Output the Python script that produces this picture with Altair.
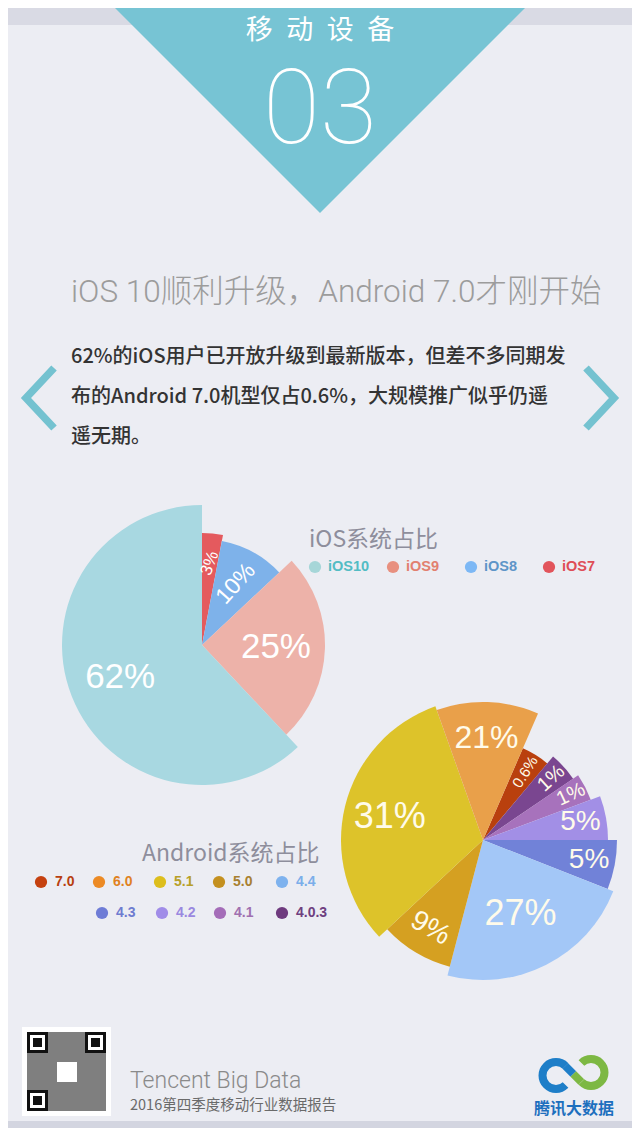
import math
import altair as alt
import pandas as pd

# ---------------- data ----------------
ios_versions = ["iOS7", "iOS8", "iOS9", "iOS10"]          # clockwise from 12 o'clock
ios_share = [3, 10, 25, 62]                               # % printed on slices
ios_legend = ["iOS10", "iOS9", "iOS8", "iOS7"]

android_versions = ["7.0", "4.0.3", "4.1", "4.2", "4.3", "4.4", "5.0", "5.1", "6.0"]  # clockwise
android_share = [0.6, 1, 1, 5, 5, 27, 9, 31, 21]         # % printed on slices
# the infographic does not draw its Android slices to scale: angular sweep as drawn (degrees)
android_sweep = [16.5, 15.8, 13.7, 20.5, 21.5, 83.2, 32.3, 113.4, 43.1]
android_legend = ["7.0", "6.0", "5.1", "5.0", "4.4", "4.3", "4.2", "4.1", "4.0.3"]

section_title = "移\u2002动\u2002设\u2002备"
section_no = "03"
headline = "iOS 10顺利升级，Android 7.0才刚开始"
body_lines = [
    "62%的iOS用户已开放升级到最新版本，但差不多同期发",
    "布的Android 7.0机型仅占0.6%，大规模推广似乎仍遥",
    "遥无期。",
]
ios_title = "iOS系统占比"
android_title = "Android系统占比"
footer_en = "Tencent Big Data"
footer_cn = "2016第四季度移动行业数据报告"
brand = "腾讯大数据"

# ---------------- styles / layout ----------------
W, H = 624, 1120
OFF = 8


def X(v):
    return v - OFF


def Y(v):
    return v - OFF


CJK = "Noto Sans CJK SC"
LAT = "Liberation Sans"
BG = "#ECEDF3"
TEAL = "#77C4D4"

ios_fill = {"iOS10": "#A8D8E1", "iOS9": "#EDB2A9", "iOS8": "#7EB2EA", "iOS7": "#E45A5E"}
ios_dot = {"iOS10": "#A6D6D8", "iOS9": "#E8907F", "iOS8": "#7DB8F5", "iOS7": "#E2545B"}
ios_txt = {"iOS10": "#52BCC4", "iOS9": "#E2806F", "iOS8": "#5E95C8", "iOS7": "#DF4E57"}
ios_r = {"iOS7": 112, "iOS8": 106, "iOS9": 123, "iOS10": 140}
ios_lr = {"iOS7": 82, "iOS8": 70, "iOS9": 74, "iOS10": 88}
ios_ls = {"iOS7": 17, "iOS8": 23, "iOS9": 35, "iOS10": 35}
ios_la = {"iOS7": 290, "iOS8": 312, "iOS9": 0, "iOS10": 0}

and_fill = {"7.0": "#B9400E", "4.0.3": "#7A4690", "4.1": "#A772BC", "4.2": "#A28FE6",
            "4.3": "#7182D8", "4.4": "#A3C7F7", "5.0": "#D5A021", "5.1": "#DDC32A", "6.0": "#E9A04A"}
and_dot = {"7.0": "#C5410F", "6.0": "#EC8A24", "5.1": "#DDBE1C", "5.0": "#C4901F", "4.4": "#7EB2EE",
           "4.3": "#6E7CD6", "4.2": "#A08CE8", "4.1": "#A46CB8", "4.0.3": "#6E3A7E"}
and_txt = {"7.0": "#B8400F", "6.0": "#E0821F", "5.1": "#B8A028", "5.0": "#A88030", "4.4": "#7BAEEA",
           "4.3": "#6E7CD0", "4.2": "#9A88E0", "4.1": "#A070B0", "4.0.3": "#6E4080"}
and_r = {"7.0": 100, "4.0.3": 109, "4.1": 115, "4.2": 125, "4.3": 134, "4.4": 140,
         "5.0": 131, "5.1": 142, "6.0": 138}
and_lr = {"7.0": 80, "4.0.3": 92, "4.1": 99, "4.2": 99, "4.3": 108, "4.4": 83,
          "5.0": 103, "5.1": 96, "6.0": 102}
and_ls = {"7.0": 15, "4.0.3": 20, "4.1": 20, "4.2": 28, "4.3": 28, "4.4": 36,
          "5.0": 28, "5.1": 36, "6.0": 32}
and_la = {"7.0": 302, "4.0.3": 318, "4.1": 335, "4.2": 0, "4.3": 0, "4.4": 0,
          "5.0": 30, "5.1": 0, "6.0": 0}

IOS_C = (202, 645)
AND_C = (483, 840)
AND_START_DEG = 23.5

one = pd.DataFrame({"k": [0]})


def rect(x1, y1, x2, y2, color, opacity=1.0):
    return alt.Chart(one).mark_rect(color=color, opacity=opacity).encode(
        x=alt.value(X(x1)), x2=alt.value(X(x2)), y=alt.value(Y(y1)), y2=alt.value(Y(y2)))


def text(s, x, y, size, color, font=CJK, weight="normal", align="left", baseline="middle"):
    return alt.Chart(one).mark_text(fontSize=size, color=color, font=font, fontWeight=weight,
                                    align=align, baseline=baseline).encode(
        x=alt.value(X(x)), y=alt.value(Y(y)), text=alt.value(s))


def symbol(path, x, y, side, color, filled=True, sw=0):
    kw = dict(shape=path, size=side * side, opacity=1, color=color, filled=filled)
    if filled:
        kw["strokeWidth"] = 0
    else:
        kw.update(strokeWidth=sw, strokeCap="butt", strokeJoin="miter")
    return alt.Chart(one).mark_point(**kw).encode(x=alt.value(X(x)), y=alt.value(Y(y)))


def pie_layers(df, value_field, center, start_deg, fills, label_color):
    total = float(df[value_field].sum())
    a0 = math.radians(start_deg)
    tscale = alt.Scale(domain=[0, total], range=[a0, a0 + 2 * math.pi])
    base = alt.Chart(df).transform_stack(
        stack=value_field, as_=["s0", "s1"], groupby=[],
        sort=[alt.SortField("order", order="ascending")],
    ).transform_calculate(mid="(datum.s0 + datum.s1) / 2").encode(
        x=alt.value(X(center[0])), y=alt.value(Y(center[1])))
    arcs = base.mark_arc().encode(
        theta=alt.Theta("s0:Q", scale=tscale), theta2="s1:Q",
        radius=alt.Radius("r:Q", scale=None),
        color=alt.Color("version:N", scale=alt.Scale(domain=list(fills), range=list(fills.values())),
                        legend=None))
    labels = base.mark_text(font=LAT, color=label_color).encode(
        theta=alt.Theta("mid:Q", scale=tscale),
        radius=alt.Radius("lr:Q", scale=None), text="label:N",
        size=alt.Size("ls:Q", scale=None), angle=alt.Angle("la:Q", scale=None))
    return [arcs, labels]


layers = []

# background bands
layers.append(rect(0, 0, 640, 25, "#D9DAE4"))
layers.append(rect(0, 1121, 640, 1140, "#D3D5E0"))

# header triangle and its texts
layers.append(symbol("M-1,-0.5L1,-0.5L0,0.5Z", 320, 106.5, 426, TEAL))
layers.append(text(section_title, 320, 30.5, 27, "white", align="center"))
layers.append(text(section_no, 320, 112, 104, "white", font="Roboto", weight=100, align="center"))

# headline and body
layers.append(text(headline, 71, 293, 31.5, "#9C9C9C", font="Roboto, 'Noto Sans CJK SC'", weight=300))
for i, line in enumerate(body_lines):
    layers.append(text(line, 71, 357 + i * 40, 20, "#333333", weight=500))

# chevrons
layers.append(symbol("M0.467,-1L-0.467,0L0.467,1", 40, 398, 60, "#74C2D0", filled=False, sw=7.5))
layers.append(symbol("M-0.467,-1L0.467,0L-0.467,1", 600, 398, 60, "#74C2D0", filled=False, sw=7.5))

# ---------------- iOS pie ----------------
ios_df = pd.DataFrame({"version": ios_versions, "share": ios_share})
ios_df["order"] = range(len(ios_df))
ios_df["label"] = [f"{v:g}%" for v in ios_share]
ios_df["r"] = ios_df["version"].map(ios_r)
ios_df["lr"] = ios_df["version"].map(ios_lr)
ios_df["ls"] = ios_df["version"].map(ios_ls)
ios_df["la"] = ios_df["version"].map(ios_la)
layers += pie_layers(ios_df, "share", IOS_C, 0, ios_fill, "white")

# iOS legend
layers.append(text(ios_title, 309, 540, 23, "#8E8E9C"))
ios_leg = pd.DataFrame({"version": ios_legend})
ios_leg["dx"] = [X(315 + i * 78) for i in range(len(ios_legend))]
ios_leg["tx"] = ios_leg["dx"] + 13
layers.append(alt.Chart(ios_leg).mark_point(filled=True, size=150, opacity=1, shape="circle").encode(
    x=alt.X("dx:Q", scale=None), y=alt.value(Y(567)),
    color=alt.Color("version:N", scale=alt.Scale(domain=list(ios_dot), range=list(ios_dot.values())),
                    legend=None)))
layers.append(alt.Chart(ios_leg).mark_text(font=LAT, fontSize=14.5, fontWeight="bold", align="left",
                                           baseline="middle").encode(
    x=alt.X("tx:Q", scale=None), y=alt.value(Y(567)), text="version:N",
    color=alt.Color("version:N", scale=alt.Scale(domain=list(ios_txt), range=list(ios_txt.values())),
                    legend=None)))

# ---------------- Android pie ----------------
and_df = pd.DataFrame({"version": android_versions, "share": android_share, "sweep": android_sweep})
and_df["order"] = range(len(and_df))
and_df["label"] = [f"{v:g}%" for v in android_share]
and_df["r"] = and_df["version"].map(and_r)
and_df["lr"] = and_df["version"].map(and_lr)
and_df["ls"] = and_df["version"].map(and_ls)
and_df["la"] = and_df["version"].map(and_la)
layers += pie_layers(and_df, "sweep", AND_C, AND_START_DEG, and_fill, "#FFFBEA")

# Android legend
layers.append(text(android_title, 142, 854, 23, "#8E8E9C"))
and_leg = pd.DataFrame({"version": android_legend})
row1 = [41, 99, 160, 219, 282]
row2 = [102, 162, 220, 282]
and_leg["dx"] = [X(v) for v in row1 + row2]
and_leg["dy"] = [Y(882)] * len(row1) + [Y(913)] * len(row2)
and_leg["tx"] = and_leg["dx"] + 14
layers.append(alt.Chart(and_leg).mark_point(filled=True, size=150, opacity=1, shape="circle").encode(
    x=alt.X("dx:Q", scale=None), y=alt.Y("dy:Q", scale=None),
    color=alt.Color("version:N", scale=alt.Scale(domain=list(and_dot), range=list(and_dot.values())),
                    legend=None)))
layers.append(alt.Chart(and_leg).mark_text(font=LAT, fontSize=14, fontWeight="bold", align="left",
                                           baseline="middle").encode(
    x=alt.X("tx:Q", scale=None), y=alt.Y("dy:Q", scale=None), text="version:N",
    color=alt.Color("version:N", scale=alt.Scale(domain=list(and_txt), range=list(and_txt.values())),
                    legend=None)))

# ---------------- footer ----------------
layers.append(rect(22, 1027, 111, 1116, "white"))
layers.append(rect(27, 1032, 106, 1111, "#2A2A2A", 0.6))
for fx, fy in [(27, 1032), (85, 1032), (27, 1090)]:
    layers.append(rect(fx, fy, fx + 21, fy + 21, "#111111"))
    layers.append(rect(fx + 3, fy + 3, fx + 18, fy + 18, "white"))
    layers.append(rect(fx + 6, fy + 6, fx + 15, fy + 15, "#111111"))
layers.append(rect(57, 1062, 77, 1082, "white"))

layers.append(text(footer_en, 130, 1081, 23, "#8A8A8A", font="Roboto", weight=300))
layers.append(text(footer_cn, 130, 1106, 14.5, "#6A6A6A"))


def ring(cx, cy, t0, t1, color):
    return alt.Chart(one).mark_arc(color=color).encode(
        x=alt.value(X(cx)), y=alt.value(Y(cy)),
        theta=alt.value(math.radians(t0)), theta2=alt.value(math.radians(t1)),
        radius=alt.value(17.5), radius2=alt.value(9.5))


layers.append(ring(556, 1075.5, 135, 405, "#1E7EC8"))
layers.append(ring(591, 1072.5, 315, 585, "#7DB843"))
layers.append(alt.Chart(one).mark_rule(strokeWidth=8, color="#1E7EC8", strokeCap="butt").encode(
    x=alt.value(X(565.3)), y=alt.value(Y(1066)), x2=alt.value(X(573.3)), y2=alt.value(Y(1074))))
layers.append(alt.Chart(one).mark_rule(strokeWidth=8, color="#7DB843", strokeCap="butt").encode(
    x=alt.value(X(573.3)), y=alt.value(Y(1074)), x2=alt.value(X(581.3)), y2=alt.value(Y(1082))))
layers.append(text(brand, 574, 1109, 16, "#1D6FBE", weight="bold", align="center"))

chart = alt.layer(*layers).properties(
    width=W, height=H, background=BG, padding=0,
    autosize=alt.AutoSizeParams(type="none"),
).resolve_scale(theta="independent", color="independent").configure_view(stroke=None)

chart.save("out.html", embed_options={"renderer": "svg", "actions": False})
